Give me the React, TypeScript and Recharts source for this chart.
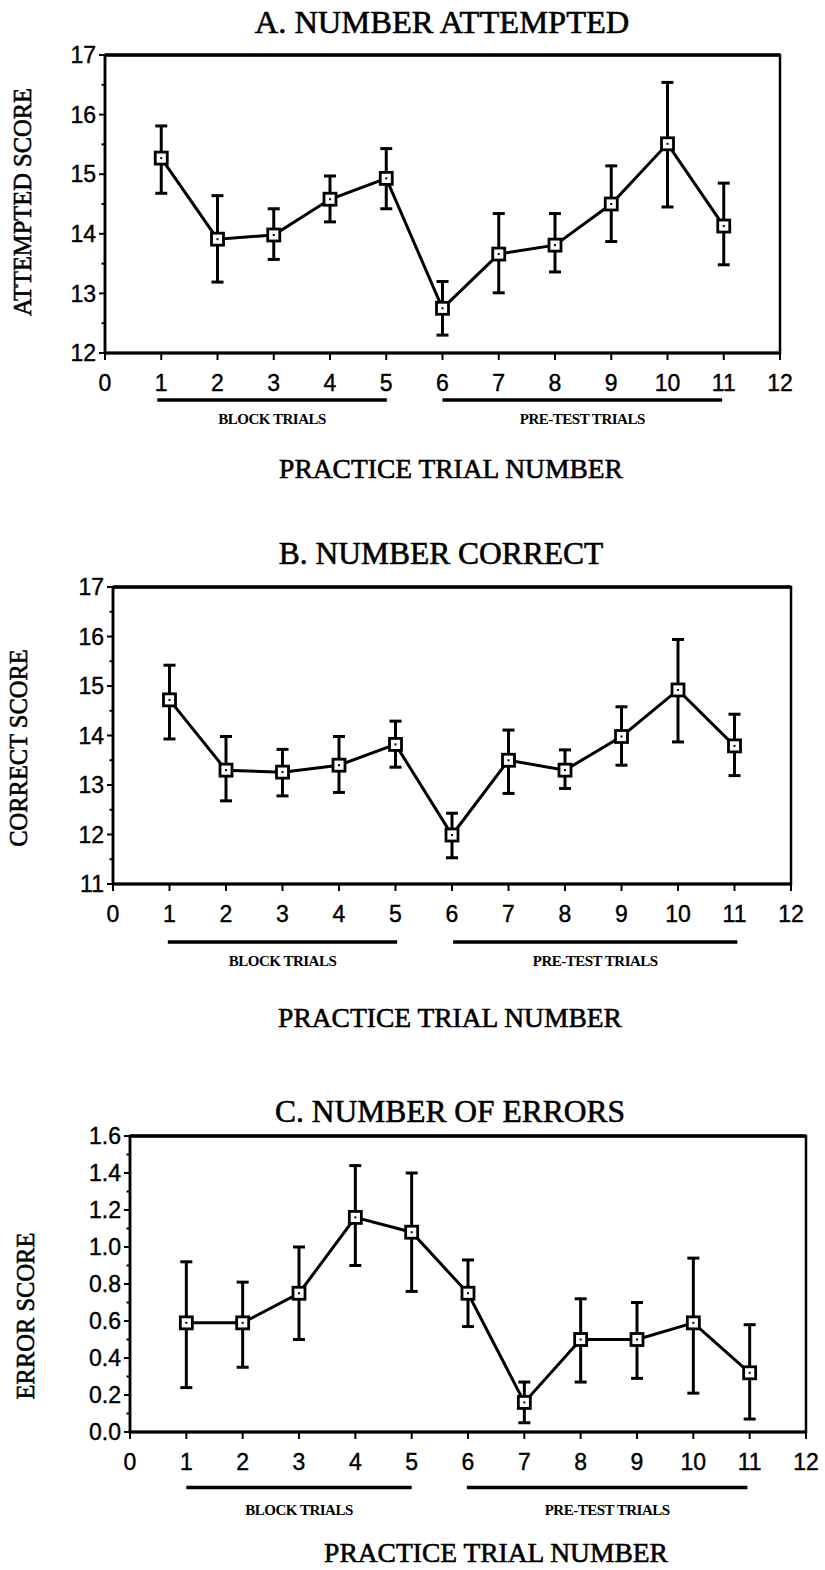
import React from "react";
import { LineChart, Line, XAxis, YAxis, ErrorBar, ReferenceLine, ReferenceArea } from "recharts";

// trial numbers and axis ticks
const trials = [1, 2, 3, 4, 5, 6, 7, 8, 9, 10, 11];
const xTicks = [0, 1, 2, 3, 4, 5, 6, 7, 8, 9, 10, 11, 12];

// A. number attempted (mean, lower and upper bar ends)
const attemptedMean = [15.27, 13.91, 13.98, 14.58, 14.93, 12.75, 13.66, 13.81, 14.5, 15.51, 14.13];
const attemptedLow = [14.68, 13.19, 13.57, 14.2, 14.42, 12.3, 13.01, 13.36, 13.87, 14.45, 13.48];
const attemptedHigh = [15.81, 14.64, 14.42, 14.97, 15.43, 13.2, 14.34, 14.34, 15.14, 16.54, 14.85];
const attemptedTicks = [12, 12.5, 13, 13.5, 14, 14.5, 15, 15.5, 16, 16.5, 17];
const attemptedMajor = [12, 13, 14, 15, 16, 17];

// B. number correct
const correctMean = [14.72, 13.3, 13.26, 13.4, 13.82, 11.99, 13.5, 13.3, 13.98, 14.92, 13.79];
const correctLow = [13.93, 12.68, 12.78, 12.85, 13.36, 11.53, 12.83, 12.93, 13.4, 13.87, 13.19];
const correctHigh = [15.42, 13.98, 13.72, 13.98, 14.29, 12.43, 14.11, 13.71, 14.58, 15.94, 14.43];
const correctTicks = [11, 11.5, 12, 12.5, 13, 13.5, 14, 14.5, 15, 15.5, 16, 16.5, 17];
const correctMajor = [11, 12, 13, 14, 15, 16, 17];

// C. number of errors
const errorsMean = [0.59, 0.59, 0.75, 1.16, 1.08, 0.75, 0.16, 0.5, 0.5, 0.59, 0.32];
const errorsLow = [0.24, 0.35, 0.5, 0.9, 0.76, 0.57, 0.05, 0.27, 0.29, 0.21, 0.07];
const errorsHigh = [0.92, 0.81, 1.0, 1.44, 1.4, 0.93, 0.27, 0.72, 0.7, 0.94, 0.58];
const errorsTicks = [0, 0.1, 0.2, 0.3, 0.4, 0.5, 0.6, 0.7, 0.8, 0.9, 1.0, 1.1, 1.2, 1.3, 1.4, 1.5, 1.6];
const errorsMajor = [0, 0.2, 0.4, 0.6, 0.8, 1.0, 1.2, 1.4, 1.6];

const SANS = "'Liberation Sans', Arial, sans-serif";
const SERIF = "'Liberation Serif', 'Times New Roman', serif";

type Row = { trial: number; mean: number; err: [number, number] };

const buildRows = (mean: number[], low: number[], high: number[]): Row[] =>
  trials.map((t, i) => ({ trial: t, mean: mean[i], err: [mean[i] - low[i], high[i] - mean[i]] }));

const SquareDot = (props: any) => {
  const { cx, cy, index } = props;
  if (cx == null || cy == null) return <g key={`sq-${index}`} />;
  return (
    <g key={`sq-${index}`}>
      <rect x={cx - 6} y={cy - 6} width={12} height={12} fill="#fff" stroke="#000" strokeWidth={2.8} />
      <rect x={cx - 1} y={cy - 1} width={2} height={2} fill="#000" />
    </g>
  );
};

const makeYTick = (major: number[], fmt: (v: number) => string) => (props: any) => {
  const { x, y, payload } = props;
  const v = Number(payload.value);
  const isMajor = major.some((m) => Math.abs(m - v) < 1e-6);
  return (
    <g>
      <line x1={x} x2={x - (isMajor ? 6 : 3.5)} y1={y} y2={y} stroke="#000" strokeWidth={2} />
      {isMajor && (
        <text
          x={x - 9}
          y={y}
          dy="0.36em"
          textAnchor="end"
          fontSize={23}
          fontFamily={SANS}
          fill="#000"
          stroke="#000"
          strokeWidth={0.4}
        >
          {fmt(v)}
        </text>
      )}
    </g>
  );
};

interface PanelProps {
  top: number;
  height: number;
  box: { left: number; right: number; top: number; bottom: number };
  rows: Row[];
  yDomain: [number, number];
  yTicks: number[];
  yMajor: number[];
  fmt: (v: number) => string;
  groupY: number;
  labelOffset: number;
  block: [number, number];
  pretest: [number, number];
}

const groupLabel = (value: string, offset: number) => ({
  value,
  position: "bottom" as const,
  offset,
  fill: "#000",
  fontSize: 15,
  fontWeight: "bold",
  fontFamily: SERIF,
  letterSpacing: -0.5
});

const Panel = ({ top, height, box, rows, yDomain, yTicks, yMajor, fmt, groupY, labelOffset, block, pretest }: PanelProps) => {
  const margin = {
    top: box.top - top,
    left: box.left - 60,
    right: 825 - box.right,
    bottom: top + height - box.bottom - 30
  };
  return (
    <div style={{ position: "absolute", left: 0, top }}>
      <LineChart width={825} height={height} data={rows} margin={margin}>
        <XAxis
          type="number"
          dataKey="trial"
          domain={[0, 12]}
          ticks={xTicks}
          interval={0}
          allowDataOverflow
          height={30}
          tickSize={7}
          tickMargin={15}
          axisLine={{ stroke: "#000", strokeWidth: 3 }}
          tickLine={{ stroke: "#000", strokeWidth: 2 }}
          tick={{ fill: "#000", fontSize: 23, fontFamily: SANS, stroke: "#000", strokeWidth: 0.4 }}
        />
        <YAxis
          type="number"
          domain={yDomain}
          ticks={yTicks}
          interval={0}
          allowDataOverflow
          width={60}
          tickLine={false}
          tickSize={0}
          tickMargin={0}
          axisLine={{ stroke: "#000", strokeWidth: 2.5 }}
          tick={makeYTick(yMajor, fmt)}
        />
        <ReferenceArea
          x1={0}
          x2={12}
          y1={yDomain[0]}
          y2={yDomain[1]}
          fill="none"
          stroke="#000"
          strokeWidth={2.5}
          ifOverflow="visible"
        />
        <ReferenceLine y={yDomain[1]} stroke="#000" strokeWidth={3.5} ifOverflow="visible" />
        <ReferenceLine
          segment={[{ x: block[0], y: groupY }, { x: block[1], y: groupY }]}
          stroke="#000"
          strokeWidth={3.5}
          ifOverflow="visible"
          label={groupLabel("BLOCK TRIALS", labelOffset)}
        />
        <ReferenceLine
          segment={[{ x: pretest[0], y: groupY }, { x: pretest[1], y: groupY }]}
          stroke="#000"
          strokeWidth={3.5}
          ifOverflow="visible"
          label={groupLabel("PRE-TEST TRIALS", labelOffset)}
        />
        <Line
          type="linear"
          dataKey="mean"
          stroke="#000"
          strokeWidth={3}
          dot={SquareDot}
          activeDot={false}
          isAnimationActive={false}
        >
          <ErrorBar dataKey="err" direction="y" width={6} stroke="#000" strokeWidth={3} isAnimationActive={false} />
        </Line>
      </LineChart>
    </div>
  );
};

const serifText = { fontFamily: SERIF, fill: "#000", stroke: "#000", strokeWidth: 0.6 };

export default function App() {
  return (
    <div style={{ position: "absolute", left: 0, top: 0, width: 825, height: 1570, background: "#fff" }}>
      <Panel
        top={0}
        height={440}
        box={{ left: 105, right: 780, top: 55, bottom: 353 }}
        rows={buildRows(attemptedMean, attemptedLow, attemptedHigh)}
        yDomain={[12, 17]}
        yTicks={attemptedTicks}
        yMajor={attemptedMajor}
        fmt={(v) => String(v)}
        groupY={11.21}
        labelOffset={13}
        block={[0.93, 5.01]}
        pretest={[6.0, 10.97]}
      />
      <Panel
        top={500}
        height={500}
        box={{ left: 113, right: 791, top: 587, bottom: 884 }}
        rows={buildRows(correctMean, correctLow, correctHigh)}
        yDomain={[11, 17]}
        yTicks={correctTicks}
        yMajor={correctMajor}
        fmt={(v) => String(v)}
        groupY={9.83}
        labelOffset={13}
        block={[0.97, 5.03]}
        pretest={[6.02, 11.05]}
      />
      <Panel
        top={1080}
        height={460}
        box={{ left: 130, right: 806, top: 1136, bottom: 1432 }}
        rows={buildRows(errorsMean, errorsLow, errorsHigh)}
        yDomain={[0, 1.6]}
        yTicks={errorsTicks}
        yMajor={errorsMajor}
        fmt={(v) => v.toFixed(1)}
        groupY={-0.3}
        labelOffset={17}
        block={[1.0, 5.0]}
        pretest={[5.98, 10.96]}
      />
      <svg
        width={825}
        height={1570}
        style={{ position: "absolute", left: 0, top: 0, pointerEvents: "none" }}
      >
        <text x={442} y={33} textAnchor="middle" fontSize={32.5} {...serifText}>A. NUMBER ATTEMPTED</text>
        <text x={441} y={564} textAnchor="middle" fontSize={31.5} {...serifText}>B. NUMBER CORRECT</text>
        <text x={450} y={1122} textAnchor="middle" fontSize={31.5} {...serifText}>C. NUMBER OF ERRORS</text>

        <text x={451} y={478} textAnchor="middle" fontSize={27.5} {...serifText}>PRACTICE TRIAL NUMBER</text>
        <text x={450} y={1027} textAnchor="middle" fontSize={27.5} {...serifText}>PRACTICE TRIAL NUMBER</text>
        <text x={496} y={1562} textAnchor="middle" fontSize={27.5} {...serifText}>PRACTICE TRIAL NUMBER</text>

        <text transform="translate(22,202) rotate(-90)" textAnchor="middle" dy="0.35em" fontSize={24.5} {...serifText}>
          ATTEMPTED SCORE
        </text>
        <text transform="translate(18,748) rotate(-90)" textAnchor="middle" dy="0.35em" fontSize={24.5} {...serifText}>
          CORRECT SCORE
        </text>
        <text transform="translate(25,1316) rotate(-90)" textAnchor="middle" dy="0.35em" fontSize={24.5} {...serifText}>
          ERROR SCORE
        </text>
      </svg>
    </div>
  );
}
